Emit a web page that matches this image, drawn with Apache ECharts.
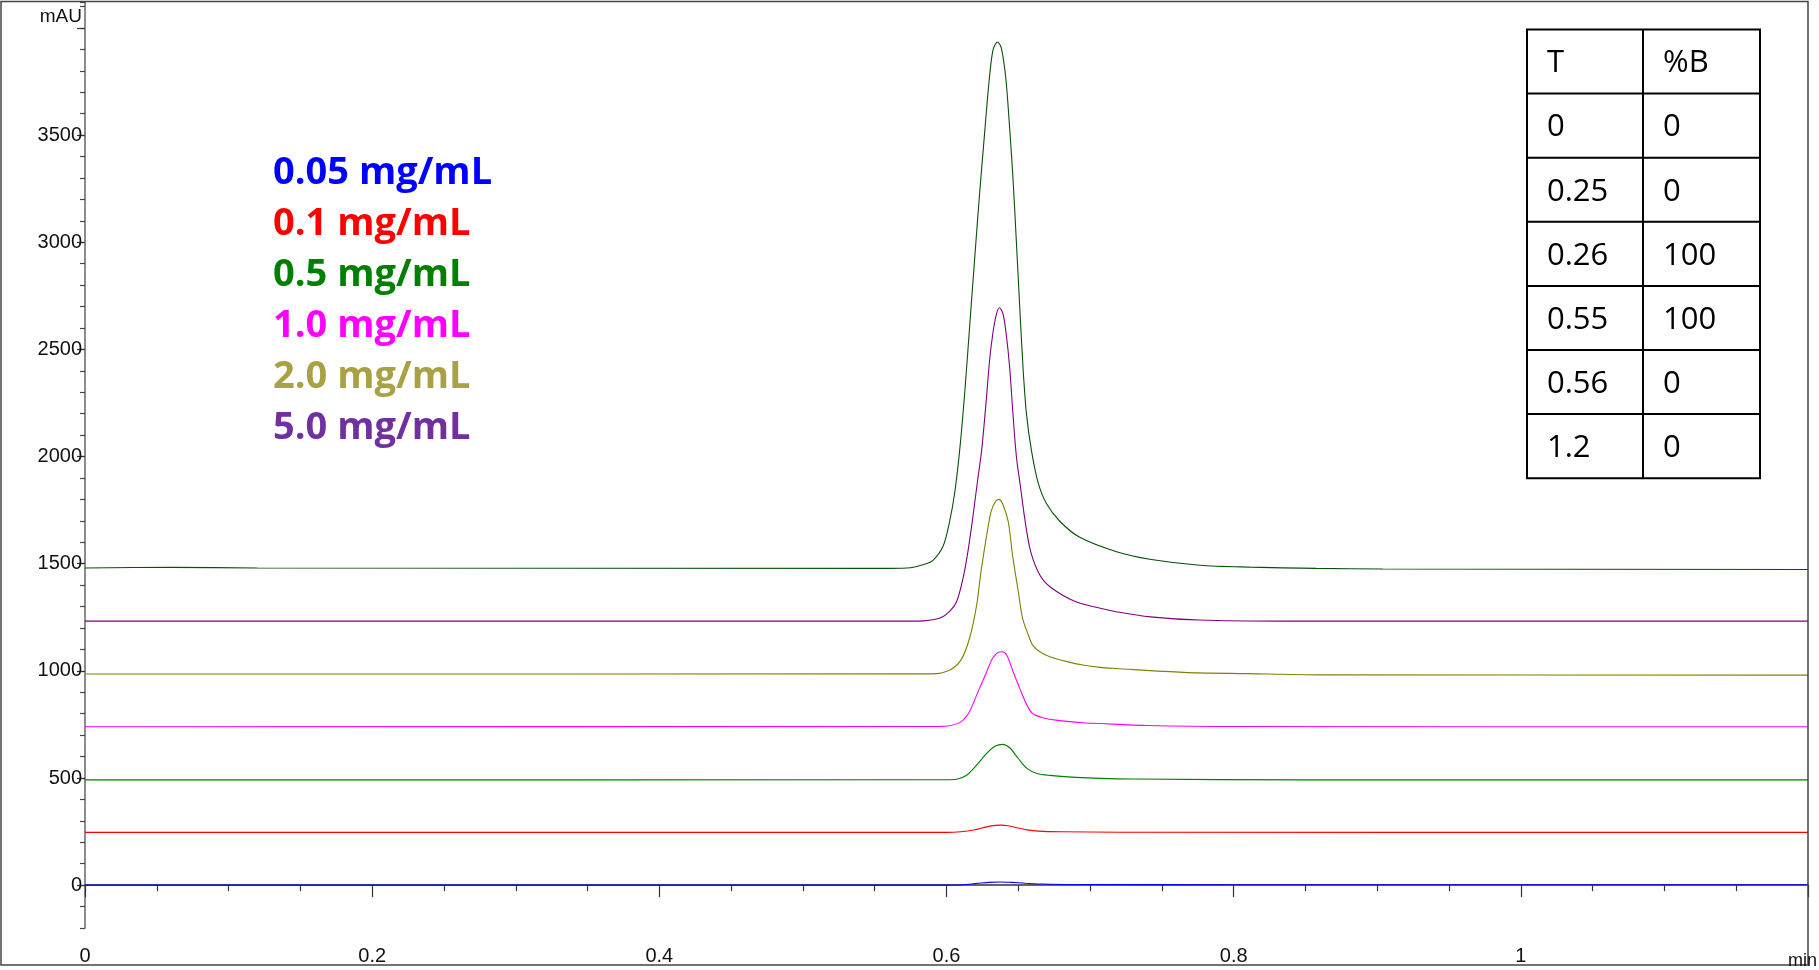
<!DOCTYPE html>
<html>
<head>
<meta charset="utf-8">
<title>chromatogram overlay</title>
<script src="https://cdn.jsdelivr.net/npm/echarts@6/dist/echarts.min.js"></script>
<style>
	html, body { margin: 0; padding: 0; background: #fff; }
	#chart { width: 1819px; height: 970px; }
</style>
</head>
<body>
<div id="chart"></div>
<script>
	// traces: [time (min), mAU] (each trace offset on the y axis)
	var trace005 = [[0, 0], [0.59, 0], [0.607, 1], [0.62, 7], [0.63, 13], [0.637, 15], [0.645, 13], [0.655, 9], [0.667, 5], [0.69, 3], [0.8, 2], [1.2, 2]];
	var trace01 = [[0, 246], [0.6, 246], [0.61, 249], [0.619, 257], [0.628, 272], [0.634, 279], [0.638, 280], [0.643, 277], [0.649, 268], [0.656, 258], [0.664, 252], [0.68, 249], [0.72, 247], [1.2, 246]];
	var trace05 = [[0, 491], [0.6, 492], [0.607, 494], [0.614, 513], [0.621, 560], [0.628, 615], [0.634, 649], [0.639, 657], [0.644, 641], [0.65, 591], [0.656, 545], [0.663, 521], [0.672, 512], [0.69, 503], [0.707, 498], [0.73, 495], [0.85, 491], [1.2, 491]];
	var trace10 = [[0, 739], [0.595, 741], [0.602, 744], [0.61, 762], [0.616, 809], [0.622, 903], [0.628, 996], [0.632, 1058], [0.636, 1086], [0.6387, 1089], [0.642, 1073], [0.646, 1003], [0.651, 918], [0.656, 840], [0.66, 801], [0.667, 781], [0.675, 771], [0.684, 764], [0.695, 758], [0.707, 754], [0.74, 745], [0.8, 740], [1.2, 739]];
	var trace20 = [[0, 985], [0.59, 986], [0.602, 1003], [0.61, 1050], [0.616, 1151], [0.621, 1307], [0.624, 1462], [0.628, 1633], [0.631, 1742], [0.634, 1789], [0.6364, 1800], [0.639, 1781], [0.643, 1696], [0.646, 1540], [0.65, 1369], [0.653, 1245], [0.657, 1167], [0.66, 1120], [0.665, 1089], [0.672, 1066], [0.684, 1043], [0.695, 1027], [0.707, 1016], [0.718, 1011], [0.765, 993], [0.81, 987], [0.86, 981], [1.2, 980]];
	var trace50 = [[0, 1232], [0.58, 1232], [0.595, 1245], [0.602, 1276], [0.607, 1322], [0.6115, 1431], [0.615, 1560], [0.618, 1700], [0.6215, 1880], [0.6245, 2031], [0.6275, 2248], [0.63, 2448], [0.6324, 2581], [0.6348, 2665], [0.6369, 2694], [0.6394, 2665], [0.6417, 2565], [0.644, 2415], [0.6463, 2198], [0.6487, 1998], [0.6515, 1860], [0.6545, 1710], [0.6585, 1560], [0.665, 1447], [0.6725, 1390], [0.69, 1322], [0.707, 1292], [0.718, 1276], [0.742, 1252], [0.776, 1237], [0.834, 1232], [1.2, 1232]];
	var traceTop = [[0, 1480], [0.06, 1483], [0.12, 1480], [0.56, 1478], [0.575, 1481], [0.586, 1500], [0.5906, 1515], [0.5976, 1581], [0.6022, 1698], [0.6057, 1831], [0.6092, 2031], [0.6127, 2298], [0.6162, 2615], [0.6197, 2931], [0.6231, 3231], [0.6266, 3514], [0.6296, 3748], [0.6324, 3898], [0.6355, 3934], [0.6382, 3906], [0.6413, 3765], [0.644, 3531], [0.6463, 3298], [0.6487, 2998], [0.651, 2698], [0.6533, 2414], [0.6557, 2198], [0.6591, 2031], [0.6637, 1881], [0.6696, 1781], [0.6789, 1698], [0.6928, 1623], [0.7184, 1556], [0.7415, 1521], [0.7764, 1493], [0.8112, 1484], [0.8576, 1478], [0.9038, 1475], [1.2, 1473]];

	var seriesNames = ['0.05 mg/mL', '0.1 mg/mL', '0.5 mg/mL', '1.0 mg/mL', '2.0 mg/mL', '5.0 mg/mL', 'top trace'];
	var seriesData = [trace005, trace01, trace05, trace10, trace20, trace50, traceTop];
	var lineColors = ['#0000ff', '#ff0000', '#008000', '#ff00ff', '#808000', '#800080', '#0a4f0a'];
	var legendColors = ['#0000ff', '#ff0000', '#008000', '#ff00ff', '#a9a244', '#7030a0'];

	var yLabelValues = [0, 500, 1000, 1500, 2000, 2500, 3000, 3500];
	var yMajorTickValues = [0, 500, 1000, 1500, 2000, 2500, 3000, 3500, 4000];

	// gradient table (T, %B)
	var gradientTable = [['T', '%B'], ['0', '0'], ['0.25', '0'], ['0.26', '100'], ['0.55', '100'], ['0.56', '0'], ['1.2', '0']];

	var axisFont = '"Liberation Sans", Arial, sans-serif';

	//表格用 graphic 画
	function buildTable() {
		var x0 = 1527, x1 = 1643, x2 = 1760, y0 = 29.5, rowH = 64.1;
		var h = rowH * gradientTable.length;
		var els = [];
		els.push({ type: 'rect', shape: { x: x0, y: y0, width: x2 - x0, height: h }, style: { fill: '#fff', stroke: '#000', lineWidth: 2 } });
		for (var i = 1; i < gradientTable.length; i++) {
			els.push({ type: 'line', shape: { x1: x0, y1: y0 + i * rowH, x2: x2, y2: y0 + i * rowH }, style: { stroke: '#000', lineWidth: 2 } });
		}
		els.push({ type: 'line', shape: { x1: x1, y1: y0, x2: x1, y2: y0 + h }, style: { stroke: '#000', lineWidth: 2 } });
		gradientTable.forEach(function(row, i) {
			row.forEach(function(cell, j) {
				els.push({
					type: 'text',
					x: (j === 0 ? x0 : x1) + 20,
					y: y0 + i * rowH + rowH / 2 + 2,
					style: { text: cell, fill: '#000', fontSize: 31, fontFamily: '"Open Sans", "Noto Sans", sans-serif', align: 'left', verticalAlign: 'middle' }
				});
			});
		});
		return els;
	}

	var option = {
		animation: false,
		backgroundColor: '#fff',
		grid: { left: 85, right: 11, top: 2, bottom: 42 },
		legend: {
			orient: 'vertical',
			left: 268,
			top: 148,
			padding: 0,
			itemGap: 0,
			icon: 'none',
			itemWidth: 0,
			itemHeight: 0,
			selectedMode: false,
			data: seriesNames.slice(0, 6).map(function(n, i) {
				return { name: n, textStyle: { color: legendColors[i] } };
			}),
			textStyle: { fontFamily: '"Open Sans", "Noto Sans", sans-serif', fontWeight: 'bold', fontSize: 38, lineHeight: 51 }
		},
		xAxis: {
			type: 'value',
			min: 0,
			max: 1.2,
			interval: 0.2,
			axisLine: { show: true, lineStyle: { color: '#333', width: 1.5 } },
			axisTick: { show: true, length: 12, lineStyle: { color: '#333', width: 1.2 } },
			minorTick: { show: true, splitNumber: 4, length: 6, lineStyle: { color: '#333', width: 1.2 } },
			axisLabel: { color: '#111', fontSize: 20, fontFamily: axisFont, margin: 18, showMaxLabel: false },
			splitLine: { show: false }
		},
		yAxis: [{
			// minor ticks every 100
			type: 'value',
			min: -200,
			max: 4121,
			interval: 100,
			position: 'left',
			axisLine: { show: true, lineStyle: { color: '#666', width: 1.5 } },
			axisTick: { show: true, length: 5, lineStyle: { color: '#444', width: 1.2 } },
			axisLabel: { show: false },
			splitLine: { show: false }
		}, {
			// major ticks + labels every 500
			type: 'value',
			min: -200,
			max: 4121,
			position: 'left',
			name: 'mAU',
			nameLocation: 'end',
			nameGap: -15,
			nameTextStyle: { color: '#111', fontSize: 19, fontFamily: axisFont, align: 'right', verticalAlign: 'middle', padding: [0, 3, 0, 0] },
			axisLine: { show: false },
			axisTick: { show: true, length: 8, customValues: yMajorTickValues, lineStyle: { color: '#333', width: 1.2 } },
			axisLabel: {
				show: true,
				customValues: yLabelValues,
				color: '#111',
				fontSize: 20,
				fontFamily: axisFont,
				margin: 3,
				formatter: function(v) { return String(v); }
			},
			splitLine: { show: false }
		}],
		graphic: [{
			type: 'rect',
			silent: true,
			shape: { x: 1, y: 1.5, width: 1807, height: 963.5 },
			style: { fill: 'none', stroke: '#444', lineWidth: 1.5 },
			z: 100
		}, {
			// x axis unit
			type: 'text',
			x: 1788,
			y: 961,
			style: { text: 'min', fill: '#111', fontSize: 18, fontFamily: axisFont, align: 'left', verticalAlign: 'middle' },
			z: 101
		}].concat(buildTable()),
		series: seriesData.map(function(d, i) {
			return {
				name: seriesNames[i],
				type: 'line',
				yAxisIndex: 0,
				data: d,
				showSymbol: false,
				symbol: 'none',
				smooth: 0.3,
				silent: true,
				lineStyle: { color: lineColors[i], width: 1.1 },
				itemStyle: { color: lineColors[i] }
			};
		})
	};

	var chartDom = echarts.init(document.getElementById('chart'));
	chartDom.setOption(option);
</script>
</body>
</html>
